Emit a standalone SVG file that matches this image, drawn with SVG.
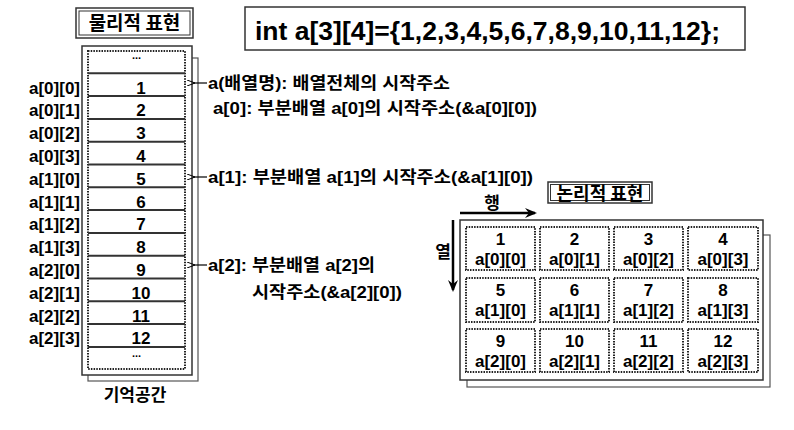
<svg xmlns="http://www.w3.org/2000/svg" width="794" height="430" viewBox="0 0 794 430">
<defs>
<style>
text{font-family:"Liberation Sans","Noto Sans CJK KR",sans-serif;fill:#000;font-weight:bold}
.k{font-family:"Noto Sans CJK KR","Liberation Sans",sans-serif}
.t17{font-size:17px}
.c{text-anchor:middle}
.e{text-anchor:end}
.box{fill:#fff;stroke:#333;stroke-width:1.5}
.sh{fill:#fff;stroke:#555;stroke-width:1.2}
.dot{fill:none;stroke:#222;stroke-width:2;stroke-dasharray:1.5 1.2}
.row{stroke:#333;stroke-width:2}
.thin{stroke:#000;stroke-width:1.2;fill:none}
.thick{stroke:#000;stroke-width:2.5;fill:none}
</style>
<marker id="ah" markerWidth="8" markerHeight="6" refX="1" refY="3" orient="auto" markerUnits="userSpaceOnUse">
<path d="M8,0 L0,3 L8,6" fill="none" stroke="#000" stroke-width="1"/>
</marker>
<marker id="ahb" markerWidth="12" markerHeight="10" refX="10" refY="5" orient="auto" markerUnits="userSpaceOnUse">
<path d="M0,0 L12,5 L0,10 L4,5 Z" fill="#000"/>
</marker>
</defs>

<g id="code">
<rect class="box" x="245" y="7" width="500" height="43"/>
<text x="255" y="40" font-size="25" textLength="465" lengthAdjust="spacingAndGlyphs" font-weight="normal">int a[3][4]={1,2,3,4,5,6,7,8,9,10,11,12};</text>
</g>

<g id="phys-title">
<rect class="box" x="76" y="8" width="117" height="30"/>
<rect fill="none" stroke="#333" stroke-width="1" x="79" y="11" width="111" height="24"/>
<text class="c k" x="134.5" y="30" font-size="19">물리적 표현</text>
</g>

<g id="memory">
<rect class="sh" x="88" y="58" width="110" height="323"/>
<rect class="box" x="82" y="46" width="110" height="329"/>
<rect class="dot" x="88" y="51" width="97" height="318"/>
<g>
<line class="row" x1="88" x2="185" y1="73.3" y2="73.3"/>
<line class="row" x1="88" x2="185" y1="96.1" y2="96.1"/>
<line class="row" x1="88" x2="185" y1="118.9" y2="118.9"/>
<line class="row" x1="88" x2="185" y1="141.7" y2="141.7"/>
<line class="row" x1="88" x2="185" y1="164.5" y2="164.5"/>
<line class="row" x1="88" x2="185" y1="187.3" y2="187.3"/>
<line class="row" x1="88" x2="185" y1="210.1" y2="210.1"/>
<line class="row" x1="88" x2="185" y1="232.9" y2="232.9"/>
<line class="row" x1="88" x2="185" y1="255.7" y2="255.7"/>
<line class="row" x1="88" x2="185" y1="278.5" y2="278.5"/>
<line class="row" x1="88" x2="185" y1="301.3" y2="301.3"/>
<line class="row" x1="88" x2="185" y1="324.1" y2="324.1"/>
<line class="row" x1="88" x2="185" y1="346.9" y2="346.9"/>
</g>
<text class="c" x="136.5" y="59" font-size="11">...</text>
<text class="c" x="136.5" y="357" font-size="11">...</text>
<g class="t17">
<text class="c" x="141" y="93.6">1</text>
<text class="c" x="141" y="116.4">2</text>
<text class="c" x="141" y="139.2">3</text>
<text class="c" x="141" y="162">4</text>
<text class="c" x="141" y="184.8">5</text>
<text class="c" x="141" y="207.6">6</text>
<text class="c" x="141" y="230.4">7</text>
<text class="c" x="141" y="253.2">8</text>
<text class="c" x="141" y="276">9</text>
<text class="c" x="141" y="298.8">10</text>
<text class="c" x="141" y="321.6">11</text>
<text class="c" x="141" y="344">12</text>
</g>
<text class="c k" x="135" y="401" font-size="17">기억공간</text>
</g>

<g id="mem-labels" class="t17">
<text class="e" x="80" y="93.6">a[0][0]</text>
<text class="e" x="80" y="116.4">a[0][1]</text>
<text class="e" x="80" y="139.2">a[0][2]</text>
<text class="e" x="80" y="162">a[0][3]</text>
<text class="e" x="80" y="184.8">a[1][0]</text>
<text class="e" x="80" y="207.6">a[1][1]</text>
<text class="e" x="80" y="230.4">a[1][2]</text>
<text class="e" x="80" y="253.2">a[1][3]</text>
<text class="e" x="80" y="276">a[2][0]</text>
<text class="e" x="80" y="298.8">a[2][1]</text>
<text class="e" x="80" y="321.6">a[2][2]</text>
<text class="e" x="80" y="344">a[2][3]</text>
</g>

<g id="annotations" class="t17">
<text x="208" y="89" textLength="242" lengthAdjust="spacingAndGlyphs">a(배열명): 배열전체의 시작주소</text>
<text x="213" y="114" textLength="324" lengthAdjust="spacingAndGlyphs">a[0]: 부분배열 a[0]의 시작주소(&amp;a[0][0])</text>
<text x="208" y="183" textLength="325" lengthAdjust="spacingAndGlyphs">a[1]: 부분배열 a[1]의 시작주소(&amp;a[1][0])</text>
<text x="208" y="271" textLength="167" lengthAdjust="spacingAndGlyphs">a[2]: 부분배열 a[2]의</text>
<text x="252" y="298" textLength="150" lengthAdjust="spacingAndGlyphs">시작주소(&amp;a[2][0])</text>
</g>

<g id="log-title">
<rect class="box" x="548" y="182" width="104" height="21"/>
<rect fill="none" stroke="#333" stroke-width="1" x="550.5" y="184.5" width="99" height="16"/>
<text class="c k" x="600" y="199.5" font-size="18">논리적 표현</text>
</g>

<g id="axis-labels" class="t17">
<text class="c k" x="492" y="209">행</text>
<text class="c k" x="443" y="258">열</text>
</g>

<g id="grid">
<rect class="sh" x="467" y="235" width="303" height="152"/>
<rect class="box" x="460" y="220" width="303" height="160"/>
<g>
<rect class="dot" x="466" y="227" width="69" height="43"/>
<rect class="dot" x="540" y="227" width="69" height="43"/>
<rect class="dot" x="614" y="227" width="69" height="43"/>
<rect class="dot" x="688" y="227" width="70" height="43"/>
<rect class="dot" x="466" y="278" width="69" height="44"/>
<rect class="dot" x="540" y="278" width="69" height="44"/>
<rect class="dot" x="614" y="278" width="69" height="44"/>
<rect class="dot" x="688" y="278" width="70" height="44"/>
<rect class="dot" x="466" y="329" width="69" height="43"/>
<rect class="dot" x="540" y="329" width="69" height="43"/>
<rect class="dot" x="614" y="329" width="69" height="43"/>
<rect class="dot" x="688" y="329" width="70" height="43"/>
</g>
<g class="t17">
<text class="c" x="500.5" y="245">1</text>
<text class="c" x="574.5" y="245">2</text>
<text class="c" x="648.5" y="245">3</text>
<text class="c" x="723" y="245">4</text>
<text class="c" x="500.5" y="264.5">a[0][0]</text>
<text class="c" x="574.5" y="264.5">a[0][1]</text>
<text class="c" x="648.5" y="264.5">a[0][2]</text>
<text class="c" x="723" y="264.5">a[0][3]</text>
<text class="c" x="500.5" y="296">5</text>
<text class="c" x="574.5" y="296">6</text>
<text class="c" x="648.5" y="296">7</text>
<text class="c" x="723" y="296">8</text>
<text class="c" x="500.5" y="315.5">a[1][0]</text>
<text class="c" x="574.5" y="315.5">a[1][1]</text>
<text class="c" x="648.5" y="315.5">a[1][2]</text>
<text class="c" x="723" y="315.5">a[1][3]</text>
<text class="c" x="500.5" y="347">9</text>
<text class="c" x="574.5" y="347">10</text>
<text class="c" x="648.5" y="347">11</text>
<text class="c" x="723" y="347">12</text>
<text class="c" x="500.5" y="366.5">a[2][0]</text>
<text class="c" x="574.5" y="366.5">a[2][1]</text>
<text class="c" x="648.5" y="366.5">a[2][2]</text>
<text class="c" x="723" y="366.5">a[2][3]</text>
</g>
</g>

<g id="connectors">
<line class="thin" x1="207" y1="83" x2="194" y2="83" marker-end="url(#ah)"/>
<line class="thin" x1="207" y1="177" x2="194" y2="177" marker-end="url(#ah)"/>
<line class="thin" x1="207" y1="265" x2="194" y2="265" marker-end="url(#ah)"/>
<line class="thick" x1="460" y1="213" x2="535" y2="213" marker-end="url(#ahb)"/>
<line class="thick" x1="453" y1="220" x2="453" y2="290" marker-end="url(#ahb)"/>
</g>
</svg>
